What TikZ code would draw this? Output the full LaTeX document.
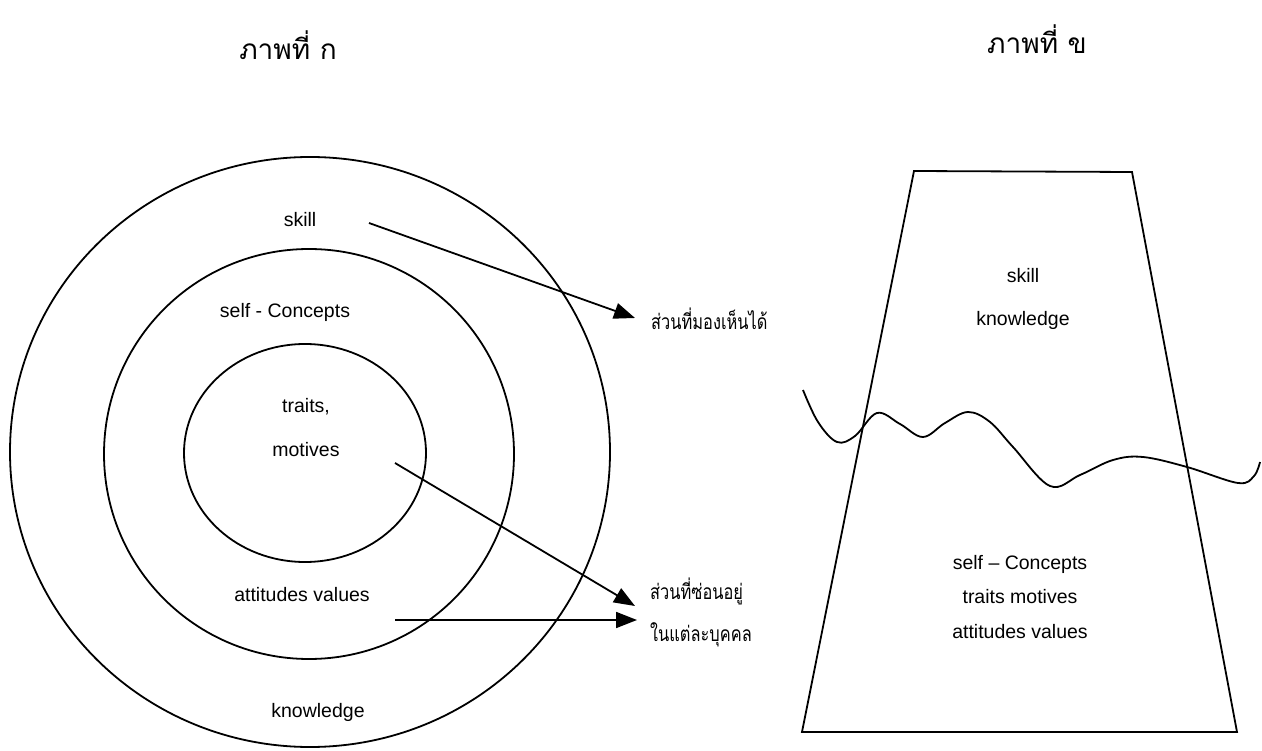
\documentclass[tikz,border=0pt]{standalone}
\usepackage{fontspec}
\usepackage{graphicx}
\setmainfont{Liberation Sans}
\newfontfamily\thaifont[Script=Thai]{Loma}
\usetikzlibrary{arrows.meta}
\newcommand{\thainarrow}[1]{\scalebox{0.78}[1]{#1}}
\begin{document}
\begin{tikzpicture}[x=1pt,y=-1pt,
  ring/.style={line width=1.8pt},
  lbl/.style={font=\fontsize{19.5}{23}\selectfont, inner sep=0pt},
  thl/.style={font=\thaifont\fontsize{21}{25}\selectfont, inner sep=0pt, anchor=base west},
  hdr/.style={font=\thaifont\fontsize{28}{32}\selectfont, inner sep=0pt, anchor=base},
  arr/.style={line width=1.8pt, -{Triangle[length=21pt,width=16pt]}}]
\useasboundingbox (0,0) rectangle (1262,751);
% left figure
\draw[ring] (310,452) ellipse [x radius=300, y radius=295];
\draw[ring] (309,454) ellipse [x radius=205, y radius=205];
\draw[ring] (305,453) ellipse [x radius=121, y radius=109];
\node[hdr] (hA) at (288,60) {ภาพที่ ก};
\node[hdr] (hB) at (1037,54) {ภาพที่ ข};
\node[lbl] (skill) at (300,220) {skill};
\node[lbl] (selfc) at (285,312) {self - Concepts};
\node[lbl] (traits) at (306,407) {traits,};
\node[lbl] (motives) at (306,450) {motives};
\node[lbl] (attv) at (302,595) {attitudes values};
\node[lbl] (know) at (318,712) {knowledge};
\node[thl] (see) at (651,330) {\thainarrow{ส่วนที่มองเห็นได้}};
\node[thl] (hide1) at (650,599) {\thainarrow{ส่วนที่ซ่อนอยู่}};
\node[thl] (hide2) at (650,641) {\thainarrow{ในแต่ละบุคคล}};
\coordinate (s1) at (369,223);
\coordinate (e1) at (635,318);
\coordinate (s2) at (395,463);
\coordinate (e2) at (635,606);
\coordinate (s3) at (395,620);
\coordinate (e3) at (637,620);
\draw[arr] (s1) -- (e1);
\draw[arr] (s2) -- (e2);
\draw[arr] (s3) -- (e3);
% right figure
\draw[ring, line join=miter] (914,171) -- (1132,172) -- (1237,732) -- (802,732) -- cycle;
\draw[ring] plot[smooth, tension=0.6] coordinates {(803,390) (818,422) (837,442) (855,436) (877,413) (900,424) (923,437) (945,423) (968,412) (990,422) (1013,447) (1050,486) (1080,475) (1113,460) (1143,457) (1187,467) (1238,483) (1254,476) (1260,462)};
\node[lbl] (rskill) at (1023,276) {skill};
\node[lbl] (rknow) at (1023,320) {knowledge};
\node[lbl] (rself) at (1020,564) {self – Concepts};
\node[lbl] (rtraits) at (1020,597) {traits motives};
\node[lbl] (rattv) at (1020,632) {attitudes values};
\end{tikzpicture}
\end{document}
